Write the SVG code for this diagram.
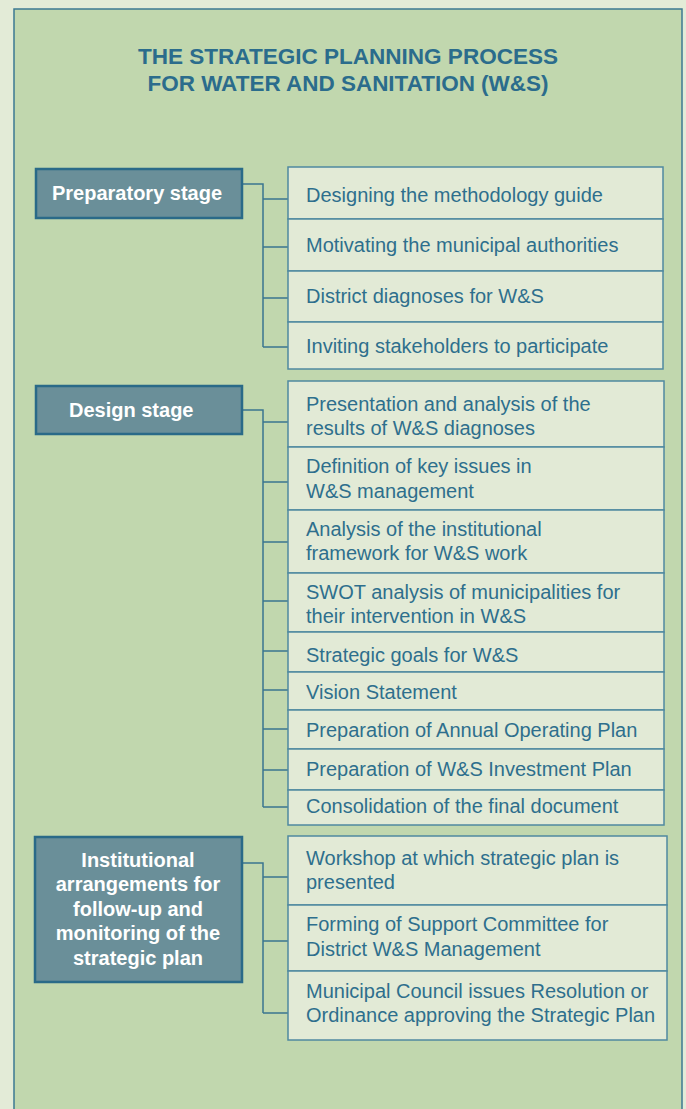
<svg xmlns="http://www.w3.org/2000/svg" width="686" height="1109" viewBox="0 0 686 1109">
<style>
.title{font-family:"Liberation Sans",Arial,sans-serif;font-weight:bold;font-size:21.5px;fill:#2b6c8c;text-anchor:middle}
.stage rect{fill:#6a8f99;stroke:#2a6a88;stroke-width:2.5}
.stage text{font-family:"Liberation Sans",Arial,sans-serif;font-weight:bold;font-size:20px;fill:#ffffff}
.item rect{fill:#e2ead6;stroke:#4f89a0;stroke-width:1.5}
.item text{font-family:"Liberation Sans",Arial,sans-serif;font-size:20px;fill:#2e6f8d}
.conn path{fill:none;stroke:#3a7590;stroke-width:1.5}
</style>
<rect x="0" y="0" width="686" height="1109" fill="#e3ebd7"/>
<rect x="14" y="9" width="668" height="1110" fill="#c1d7ae" stroke="#3c7a93" stroke-width="1.5"/>
<text class="title" x="348" y="64" textLength="420" lengthAdjust="spacingAndGlyphs">THE STRATEGIC PLANNING PROCESS</text>
<text class="title" x="348" y="91" textLength="401" lengthAdjust="spacingAndGlyphs">FOR WATER AND SANITATION (W&amp;S)</text>

<g class="conn" id="connectors">
<path d="M242 184H263V347M263 199H288M263 247H288M263 298H288M263 347H288"/>
<path d="M242 410H263V807M263 422H288M263 482H288M263 542H288M263 601H288M263 651H288M263 690H288M263 729H288M263 770H288M263 807H288"/>
<path d="M242 863H263V1013M263 877H288M263 941H288M263 1013H288"/>
</g>

<g class="stage" id="stage-preparatory"><rect x="36" y="169" width="206" height="49"/><text x="52" y="200">Preparatory stage</text></g>
<g class="stage" id="stage-design"><rect x="36" y="386" width="206" height="48"/><text x="69" y="417">Design stage</text></g>
<g class="stage" id="stage-institutional"><rect x="35" y="837" width="207" height="145"/>
<text x="138" y="867" text-anchor="middle">Institutional</text>
<text x="138" y="891" text-anchor="middle">arrangements for</text>
<text x="138" y="916" text-anchor="middle">follow-up and</text>
<text x="138" y="940" text-anchor="middle">monitoring of the</text>
<text x="138" y="965" text-anchor="middle">strategic plan</text>
</g>

<g class="item" id="p1"><rect x="288" y="167" width="375" height="52"/><text x="306" y="202">Designing the methodology guide</text></g>
<g class="item" id="p2"><rect x="288" y="219" width="375" height="52"/><text x="306" y="252">Motivating the municipal authorities</text></g>
<g class="item" id="p3"><rect x="288" y="271" width="375" height="51"/><text x="306" y="303">District diagnoses for W&amp;S</text></g>
<g class="item" id="p4"><rect x="288" y="322" width="375" height="47"/><text x="306" y="353">Inviting stakeholders to participate</text></g>

<g class="item" id="d1"><rect x="288" y="381" width="376" height="66"/><text x="306" y="411">Presentation and analysis of the</text><text x="306" y="435">results of W&amp;S diagnoses</text></g>
<g class="item" id="d2"><rect x="288" y="447" width="376" height="63"/><text x="306" y="473">Definition of key issues in</text><text x="306" y="498">W&amp;S management</text></g>
<g class="item" id="d3"><rect x="288" y="510" width="376" height="63"/><text x="306" y="536">Analysis of the institutional</text><text x="306" y="560">framework for W&amp;S work</text></g>
<g class="item" id="d4"><rect x="288" y="573" width="376" height="59"/><text x="306" y="599">SWOT analysis of municipalities for</text><text x="306" y="623">their intervention in W&amp;S</text></g>
<g class="item" id="d5"><rect x="288" y="632" width="376" height="40"/><text x="306" y="662">Strategic goals for W&amp;S</text></g>
<g class="item" id="d6"><rect x="288" y="672" width="376" height="38"/><text x="306" y="699">Vision Statement</text></g>
<g class="item" id="d7"><rect x="288" y="710" width="376" height="39"/><text x="306" y="737">Preparation of Annual Operating Plan</text></g>
<g class="item" id="d8"><rect x="288" y="749" width="376" height="41"/><text x="306" y="776">Preparation of W&amp;S Investment Plan</text></g>
<g class="item" id="d9"><rect x="288" y="790" width="376" height="35"/><text x="306" y="813">Consolidation of the final document</text></g>

<g class="item" id="i1"><rect x="288" y="836" width="379" height="69"/><text x="306" y="865">Workshop at which strategic plan is</text><text x="306" y="889">presented</text></g>
<g class="item" id="i2"><rect x="288" y="905" width="379" height="66"/><text x="306" y="931">Forming of Support Committee for</text><text x="306" y="956">District W&amp;S Management</text></g>
<g class="item" id="i3"><rect x="288" y="971" width="379" height="69"/><text x="306" y="998">Municipal Council issues Resolution or</text><text x="306" y="1022">Ordinance approving the Strategic Plan</text></g>
</svg>
